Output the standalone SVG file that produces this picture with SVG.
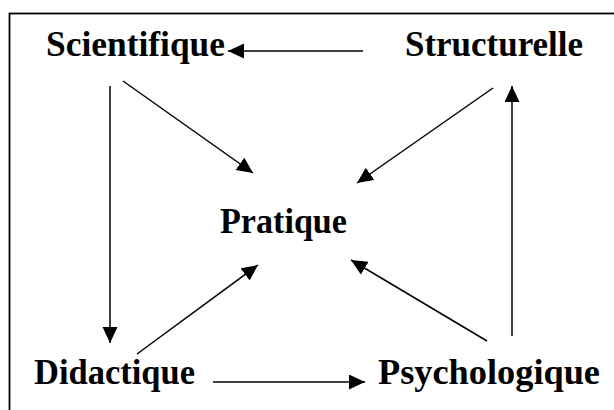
<svg xmlns="http://www.w3.org/2000/svg" width="614" height="410" viewBox="0 0 614 410">
<style>
.lbl{font-family:"Liberation Serif","Times New Roman",serif;font-weight:bold;font-size:35px;fill:#000}
.edge{stroke:#000;stroke-width:1.5;fill:none;marker-end:url(#ah)}
</style>
<defs>
<marker id="ah" markerUnits="userSpaceOnUse" markerWidth="18" markerHeight="16" refX="16" refY="7.5" orient="auto">
<path d="M0,0 L16,7.5 L0,15 z" fill="#000"/>
</marker>
</defs>
<rect width="614" height="410" fill="#fff"/>
<rect x="9.5" y="13.5" width="620" height="420" fill="none" stroke="#000" stroke-width="1.8"/>
<g id="connectors">
<line class="edge" x1="363" y1="51" x2="228" y2="51"/>
<line class="edge" x1="110" y1="86" x2="110" y2="343"/>
<line class="edge" x1="123" y1="81" x2="253" y2="173"/>
<line class="edge" x1="493" y1="88" x2="357" y2="183"/>
<line class="edge" x1="137" y1="354" x2="258" y2="265"/>
<line class="edge" x1="487" y1="341" x2="351" y2="260"/>
<line class="edge" x1="512" y1="336" x2="512" y2="86"/>
<line class="edge" x1="213" y1="382" x2="365" y2="382"/>
</g>
<g id="scientifique"><text class="lbl" x="46" y="56" textLength="179" lengthAdjust="spacingAndGlyphs">Scientifique</text></g>
<g id="structurelle"><text class="lbl" x="405" y="56" textLength="178" lengthAdjust="spacingAndGlyphs">Structurelle</text></g>
<g id="pratique"><text class="lbl" x="220" y="233" textLength="127" lengthAdjust="spacingAndGlyphs">Pratique</text></g>
<g id="didactique"><text class="lbl" x="34" y="384" textLength="161" lengthAdjust="spacingAndGlyphs">Didactique</text></g>
<g id="psychologique"><text class="lbl" x="378" y="384" textLength="222" lengthAdjust="spacingAndGlyphs">Psychologique</text></g>
</svg>
